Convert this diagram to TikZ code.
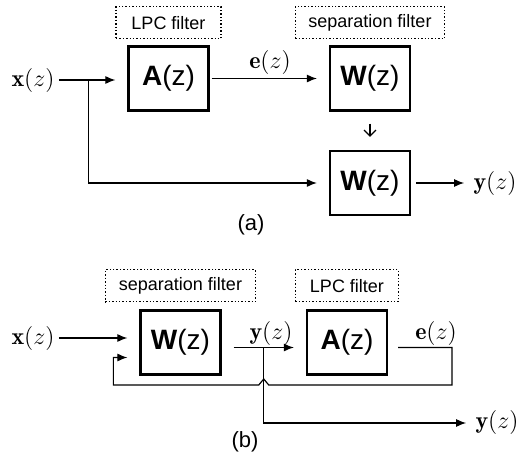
\documentclass[tikz,border=0pt]{standalone}
\usepackage{amsmath}
\usepackage{fontspec}
\setsansfont{Liberation Sans}
\usetikzlibrary{positioning, calc, arrows.meta}

\begin{document}
\begin{tikzpicture}[
    x=0.5pt, y=-0.5pt,
    filt/.style={rectangle, draw, line width=1.1pt, minimum width=40pt, minimum height=32pt,
                 font=\sffamily\fontsize{14}{16}\selectfont},
    tag/.style={rectangle, draw, densely dotted, line width=0.7pt, minimum height=16pt,
                font=\sffamily\fontsize{9}{11}\selectfont},
    sig/.style={font=\fontsize{12}{14}\selectfont, inner sep=2pt},
    flow/.style={-{Latex[length=5pt, width=4pt]}, line width=0.6pt, shorten >=6pt},
    capt/.style={font=\sffamily\fontsize{11}{13}\selectfont},
  ]
    \useasboundingbox (0,0) rectangle (527,461);

    % (a) LPC filter followed by separation filter
    \node[filt] (Aa) at (168.5,78.5) {\textbf{A}(z)};
    \node[filt] (Wa1) at (370,78.5) {\textbf{W}(z)};
    \node[filt] (Wa2) at (370,183) {\textbf{W}(z)};
    \node[tag, minimum width=52.5pt, above=3pt of Aa] (LPCa) {LPC filter};
    \node[tag, minimum width=74.5pt, above=3pt of Wa1] (SEPa) {separation filter};

    \node[sig] (xa) at (33,80) {$\mathbf{x}(z)$};
    \node[sig] (ea) at (270,62) {$\mathbf{e}(z)$};
    \node[sig] (ya) at (495,183) {$\mathbf{y}(z)$};
    \coordinate (ba) at ($(xa.east)+(30,0)$);

    \draw[flow] (xa.east) -- (xa.east -| Aa.west);
    \draw[flow, shorten <=1pt] (Aa.east) -- (Wa1.west);
    \draw[-{Straight Barb[length=3pt]}, line width=0.6pt, shorten <=6pt, shorten >=6.5pt] (Wa1) -- (Wa2);
    \draw[flow] (ba) |- (Wa2.west);
    \draw[flow, shorten <=2.5pt, shorten >=2.5pt] (Wa2.east) -- (ya);
    \node[capt] (capa) at (251,225) {(a)};

    % (b) separation filter followed by LPC filter
    \node[filt] (Wb) at (180.5,342.5) {\textbf{W}(z)};
    \node[filt] (Ab) at (347,342.5) {\textbf{A}(z)};
    \node[tag, minimum width=75pt, above=3.5pt of Wb] (SEPb) {separation filter};
    \node[tag, minimum width=51.5pt, above=3.5pt of Ab] (LPCb) {LPC filter};

    \node[sig] (xb) at (33,338) {$\mathbf{x}(z)$};
    \node[sig] (yb1) at (271,333) {$\mathbf{y}(z)$};
    \node[sig] (eb) at (436,333) {$\mathbf{e}(z)$};
    \node[sig] (yb2) at (497,423) {$\mathbf{y}(z)$};
    \coordinate (bb) at ($(Wb.east)!0.5!(Ab.west)+(0,5)$);
    \coordinate (fb) at (452,385);

    \draw[flow] (xb.east) -- (xb.east -| Wb.west);
    \draw[flow, shorten <=6pt] ($(Wb.east)+(0,5)$) -- ($(Ab.west)+(0,5)$);
    \draw[flow, shorten >=2.5pt] (bb) |- (yb2);
    % feedback of e(z), hopping over the y(z) branch
    \draw[flow, shorten <=5pt] ($(Ab.east)+(0,5)$) -| (fb)
      -- ($(bb |- fb)+(5,0)$) -- ++(-5,-6) -- ++(-5,6)
      -| ($(Wb.west)+(-26,15)$) -- ($(Wb.west)+(0,15)$);
    \node[capt] (capb) at (245,442) {(b)};
\end{tikzpicture}
\end{document}
